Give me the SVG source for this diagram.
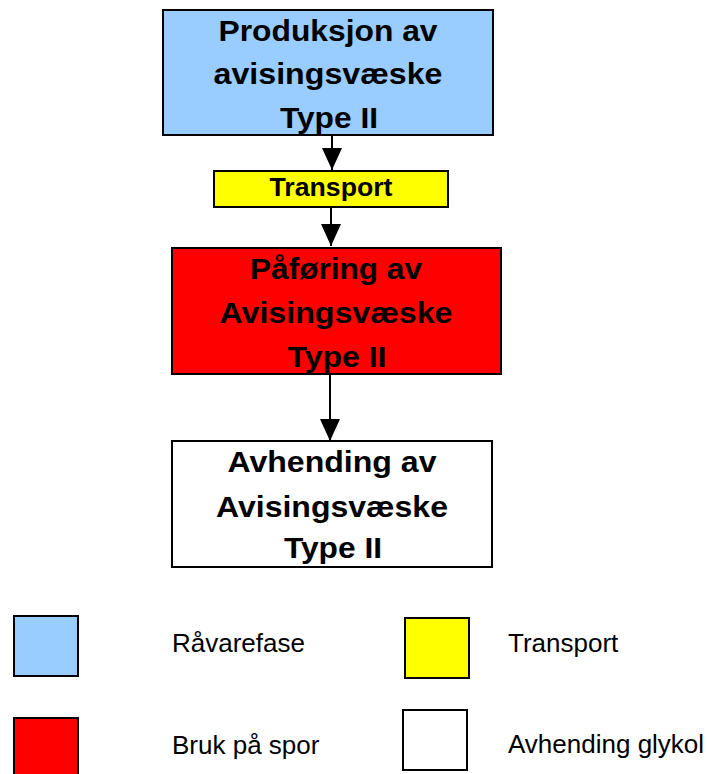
<svg xmlns="http://www.w3.org/2000/svg" width="707" height="774" viewBox="0 0 707 774">
<style>
.box{stroke:#000;stroke-width:2}
.t{font-family:"Liberation Sans",Arial,sans-serif;font-weight:bold;font-size:29px;fill:#000;text-anchor:middle}
.ts{font-family:"Liberation Sans",Arial,sans-serif;font-weight:bold;font-size:26px;fill:#000;text-anchor:middle}
.lg{font-family:"Liberation Sans",Arial,sans-serif;font-size:26px;fill:#000}
.conn{stroke:#000;stroke-width:2;fill:none}
</style>
<defs>
<marker id="ah" viewBox="0 0 22 20" refX="22" refY="10" markerWidth="22" markerHeight="20" markerUnits="userSpaceOnUse" orient="auto">
<path d="M0,0 L22,10 L0,20 Z" fill="#000"/>
</marker>
</defs>
<rect width="707" height="774" fill="#fff"/>
<g id="connectors">
<line class="conn" x1="332" y1="136" x2="332" y2="170" marker-end="url(#ah)"/>
<line class="conn" x1="331" y1="208" x2="331" y2="246" marker-end="url(#ah)"/>
<line class="conn" x1="330" y1="374" x2="330" y2="441" marker-end="url(#ah)"/>
</g>
<g id="produksjon">
<rect class="box" x="163" y="10" width="330" height="125" fill="#99ccff"/>
<text class="t" x="328" y="41" textLength="219" lengthAdjust="spacingAndGlyphs">Produksjon av</text>
<text class="t" x="328" y="84" textLength="229" lengthAdjust="spacingAndGlyphs">avisingsvæske</text>
<text class="t" x="329" y="128" textLength="98" lengthAdjust="spacingAndGlyphs">Type II</text>
</g>
<g id="transport">
<rect class="box" x="214" y="171" width="234" height="36" fill="#ffff00"/>
<text class="ts" x="331" y="196" textLength="123" lengthAdjust="spacingAndGlyphs">Transport</text>
</g>
<g id="paforing">
<rect class="box" x="172" y="248" width="329" height="126" fill="#ff0000"/>
<text class="t" x="336" y="279" textLength="172" lengthAdjust="spacingAndGlyphs">Påføring av</text>
<text class="t" x="336" y="323" textLength="233" lengthAdjust="spacingAndGlyphs">Avisingsvæske</text>
<text class="t" x="337" y="367" textLength="99" lengthAdjust="spacingAndGlyphs">Type II</text>
</g>
<g id="avhending">
<rect class="box" x="172" y="441" width="320" height="126" fill="#ffffff"/>
<text class="t" x="332" y="472" textLength="209" lengthAdjust="spacingAndGlyphs">Avhending av</text>
<text class="t" x="332" y="517" textLength="232" lengthAdjust="spacingAndGlyphs">Avisingsvæske</text>
<text class="t" x="333" y="558" textLength="98" lengthAdjust="spacingAndGlyphs">Type II</text>
</g>
<g id="legend">
<rect class="box" x="14" y="616" width="64" height="60" fill="#99ccff"/>
<text class="lg" x="172" y="651.5">Råvarefase</text>
<rect class="box" x="405" y="618" width="64" height="60" fill="#ffff00"/>
<text class="lg" x="508" y="651.5">Transport</text>
<rect class="box" x="14" y="718" width="64" height="60" fill="#ff0000"/>
<text class="lg" x="172" y="754">Bruk på spor</text>
<rect class="box" x="403" y="710" width="64" height="60" fill="#ffffff"/>
<text class="lg" x="508" y="753">Avhending glykol</text>
</g>
</svg>
